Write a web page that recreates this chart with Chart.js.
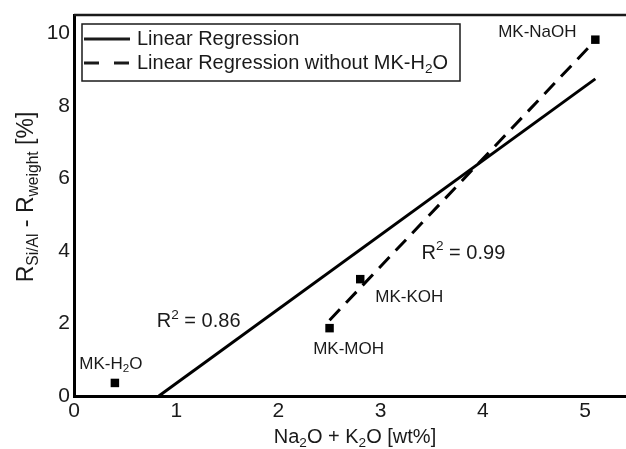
<!DOCTYPE html>
<html>
<head>
<meta charset="utf-8">
<script src="https://cdn.jsdelivr.net/npm/chart.js@4"></script>
<style>
  html, body { margin: 0; padding: 0; background: #fff; }
  #wrap { width: 626px; height: 449px; }
</style>
</head>
<body>
<div id="wrap"><canvas id="myChart" width="626" height="449"></canvas></div>
<script>
// data
const sampleNames = ['MK-H2O', 'MK-MOH', 'MK-KOH', 'MK-NaOH']
const alkaliWt = [0.4, 2.5, 2.8, 5.1]
const rDiff = [0.36, 1.87, 3.22, 9.82]
// regression lines (end points)
const fitAllX = [0.83, 5.1]
const fitAllY = [0, 8.74]
const fitDashX = [2.5, 5.1]
const fitDashY = [2.09, 9.8]
const xTicks = [0, 1, 2, 3, 4, 5]
const yTicks = [0, 2, 4, 6, 8, 10]

const ink = '#1a1a1a'
const fontFam = '"Liberation Sans", Arial, sans-serif'

const toPts = (xs, ys) => xs.map((x, i) => ({ x: x, y: ys[i] }))

// text with sub/superscripts: parts = [[text, mode]] mode 0 normal, 1 sub, 2 sup
function drawRich(ctx, parts, x, y, size, align) {
    let widths = parts.map(p => {
        ctx.font = (p[1] ? size * 0.68 : size) + 'px ' + fontFam
        return ctx.measureText(p[0]).width
    })
    let total = widths.reduce((a, b) => a + b, 0)
    let cx = align === 'center' ? x - total / 2 : (align === 'right' ? x - total : x)
    ctx.textBaseline = 'middle'
    ctx.textAlign = 'left'
    parts.forEach((p, i) => {
        ctx.font = (p[1] ? size * 0.68 : size) + 'px ' + fontFam
        let dy = p[1] === 1 ? size * 0.3 : (p[1] === 2 ? -size * 0.35 : 0)
        ctx.fillText(p[0], cx, y + dy)
        cx += widths[i]
    })
}

function nameParts(name) {
    if (name === 'MK-H2O') return [['MK-H', 0], ['2', 1], ['O', 0]]
    return [[name, 0]]
}

// label offsets in px from each point (centre of text)
const labelOffsets = [[-4, -19], [19, 21], [49, 18], [-58, -7]]

const decor = {
    id: 'decor',
    afterDraw(chart) {
        const ctx = chart.ctx
        const xs = chart.scales.x, ys = chart.scales.y
        const area = chart.chartArea
        ctx.save()
        ctx.fillStyle = ink
        ctx.strokeStyle = ink

        // top frame line
        ctx.lineWidth = 2.5
        ctx.beginPath()
        ctx.moveTo(area.left, area.top)
        ctx.lineTo(area.right, area.top)
        ctx.stroke()

        // point labels
        sampleNames.forEach((n, i) => {
            let px = xs.getPixelForValue(alkaliWt[i]) + labelOffsets[i][0]
            let py = ys.getPixelForValue(rDiff[i]) + labelOffsets[i][1]
            drawRich(ctx, nameParts(n), px, py, 17, 'center')
        })

        // R^2 notes
        drawRich(ctx, [['R', 0], ['2', 2], [' = 0.86', 0]],
            xs.getPixelForValue(0.81), ys.getPixelForValue(2.04), 20, 'left')
        drawRich(ctx, [['R', 0], ['2', 2], [' = 0.99', 0]],
            xs.getPixelForValue(3.4), ys.getPixelForValue(3.94), 20, 'left')

        // legend
        ctx.lineWidth = 1.5
        ctx.strokeRect(82, 24, 378, 57)
        ctx.lineWidth = 3
        ctx.beginPath()
        ctx.moveTo(84, 39); ctx.lineTo(130, 39)
        ctx.stroke()
        ctx.setLineDash([15, 15])
        ctx.beginPath()
        ctx.moveTo(84, 63); ctx.lineTo(130, 63)
        ctx.stroke()
        ctx.setLineDash([])
        drawRich(ctx, [['Linear Regression', 0]], 137, 39, 20, 'left')
        drawRich(ctx, [['Linear Regression without MK-H', 0], ['2', 1], ['O', 0]], 137, 63, 20, 'left')

        // axis titles
        drawRich(ctx, [['Na', 0], ['2', 1], ['O + K', 0], ['2', 1], ['O [wt%]', 0]], 355, 437, 20, 'center')
        ctx.translate(27, 197)
        ctx.rotate(-Math.PI / 2)
        drawRich(ctx, [['R', 0], ['Si/Al', 1], [' - R', 0], ['weight', 1], [' [%]', 0]], 0, 0, 23, 'center')
        ctx.restore()
    }
}

const data = {
    datasets: [{
        label: 'samples',
        data: toPts(alkaliWt, rDiff),
        pointStyle: 'rect',
        pointRadius: 6,
        backgroundColor: '#000',
        borderWidth: 0,
        showLine: false
    }, {
        label: 'Linear Regression',
        data: toPts(fitAllX, fitAllY),
        showLine: true,
        borderColor: '#000',
        borderWidth: 3,
        pointRadius: 0
    }, {
        label: 'Linear Regression without MK-H2O',
        data: toPts(fitDashX, fitDashY),
        showLine: true,
        borderColor: '#000',
        borderWidth: 3,
        borderDash: [15, 9],
        pointRadius: 0
    }]
}

const config = {
    type: 'scatter',
    data: data,
    options: {
        responsive: false,
        animation: false,
        layout: { autoPadding: false, padding: { top: 15, right: 0, left: 0, bottom: 0 } },
        plugins: { legend: { display: false }, tooltip: { enabled: false } },
        scales: {
            x: {
                type: 'linear',
                min: 0,
                max: 5.4,
                afterBuildTicks: s => { s.ticks = xTicks.map(v => ({ value: v })) },
                afterFit: s => { s.height = 53; s.paddingLeft = 0; s.paddingRight = 0 },
                grid: { display: false, drawTicks: false },
                border: { display: true, color: '#000', width: 3 },
                ticks: { color: ink, padding: 3, font: { size: 21, family: fontFam } }
            },
            y: {
                type: 'linear',
                min: 0,
                max: 10.5,
                afterBuildTicks: s => { s.ticks = yTicks.map(v => ({ value: v })) },
                afterFit: s => { s.width = 74; s.paddingTop = 0; s.paddingBottom = 0 },
                grid: { display: false, drawTicks: false },
                border: { display: true, color: '#000', width: 3 },
                ticks: { color: ink, padding: 4, font: { size: 21, family: fontFam } }
            }
        }
    },
    plugins: [decor]
}

const myChart = new Chart(document.getElementById('myChart'), config)
</script>
</body>
</html>
